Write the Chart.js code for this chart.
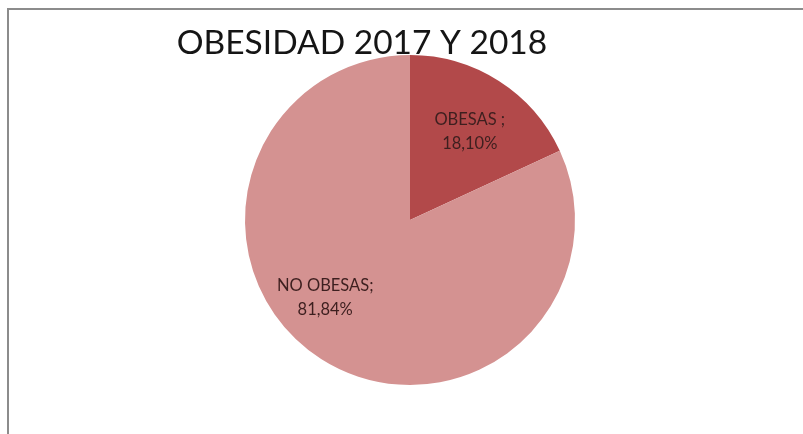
<!DOCTYPE html>
<html>
<head>
<meta charset="utf-8">
<script src="https://cdn.jsdelivr.net/npm/chart.js@4"></script>
<style>
  body { margin: 0; background: #fff; }
  #marco { position: absolute; left: 7px; top: 8px; width: 800px; height: 430px;
           border-top: 2px solid #8c8c8c; border-left: 2px solid #8c8c8c; }
  #lienzo { position: absolute; left: 0; top: 0; }
</style>
</head>
<body>
<div id="marco"></div>
<canvas id="lienzo" width="803" height="434"></canvas>
<script>
const categorias = ['OBESAS', 'NO OBESAS'];
const porcentajes = [18.10, 81.84];
const separadores = [' ;', ';'];
const colores = ['#b2494a', '#d49291'];

// desplazamiento de cada etiqueta respecto al centroide del sector
const ajusteEtiquetas = [[2, 2], [-27, -13]];

const etiquetasSectores = {
    id: 'etiquetasSectores',
    afterDatasetsDraw(chart) {
        const ctx = chart.ctx;
        const meta = chart.getDatasetMeta(0);
        ctx.save();
        ctx.font = '16.5px Lato, "Open Sans", sans-serif';
        ctx.fillStyle = '#3d1f1f';
        ctx.textAlign = 'center';
        ctx.textBaseline = 'middle';
        meta.data.forEach((arco, i) => {
            const mid = (arco.startAngle + arco.endAngle) / 2;
            const rr = arco.outerRadius * 0.65;
            const x = arco.x + Math.cos(mid) * rr + ajusteEtiquetas[i][0];
            const y = arco.y + Math.sin(mid) * rr + ajusteEtiquetas[i][1];
            const valor = porcentajes[i].toFixed(2).replace('.', ',') + '%';
            ctx.fillText(categorias[i] + separadores[i], x, y - 12);
            ctx.fillText(valor, x, y + 12);
        });
        ctx.restore();
    }
};

const tituloGrafico = {
    id: 'tituloGrafico',
    afterDraw(chart) {
        const ctx = chart.ctx;
        ctx.save();
        ctx.font = '33.5px Lato, "Open Sans", sans-serif';
        ctx.fillStyle = '#151515';
        ctx.textAlign = 'center';
        ctx.textBaseline = 'middle';
        ctx.fillText('OBESIDAD 2017 Y 2018', 362, 43);
        ctx.restore();
    }
};

new Chart(document.getElementById('lienzo'), {
    type: 'pie',
    data: {
        labels: categorias,
        datasets: [{
            data: porcentajes,
            backgroundColor: colores,
            borderWidth: 0
        }]
    },
    options: {
        responsive: false,
        animation: false,
        layout: { padding: { left: 245, right: 228, top: 55, bottom: 49 } },
        plugins: {
            legend: { display: false },
            tooltip: { enabled: false }
        }
    },
    plugins: [etiquetasSectores, tituloGrafico]
});
</script>
</body>
</html>
